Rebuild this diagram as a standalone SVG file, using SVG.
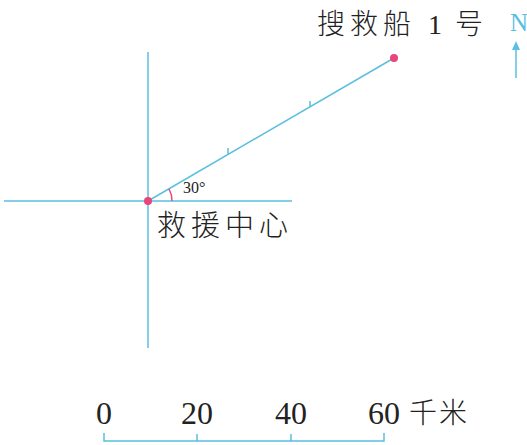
<svg xmlns="http://www.w3.org/2000/svg" width="527" height="445" viewBox="0 0 527 445">
<style>
.ln{stroke:#5bbfe0;stroke-width:1.5;fill:none}
.tx{font-family:"Liberation Serif","Noto Sans CJK SC",serif;fill:#222}
.cj{font-family:"Noto Sans CJK SC",sans-serif;fill:#222;font-weight:300}
.dot{fill:#e8457a}
</style>
<g id="connectors">
<line class="ln" x1="148" y1="52" x2="148" y2="348"/>
<line class="ln" x1="4" y1="201" x2="292" y2="201"/>
<line class="ln" x1="148" y1="201" x2="394" y2="58"/>
<line class="ln" x1="228" y1="154" x2="228" y2="148"/>
<line class="ln" x1="310" y1="107" x2="310" y2="101"/>
<path d="M172,201 A24,24 0 0 0 169,189" stroke="#e8457a" stroke-width="1.5" fill="none"/>
</g>
<g id="center">
<circle class="dot" cx="148" cy="201" r="4"/>
<text class="cj" x="157" y="236" font-size="29" letter-spacing="5">救援中心</text>
<text class="tx" x="183" y="193" font-size="16">30°</text>
</g>
<g id="ship">
<circle class="dot" cx="394" cy="58" r="4"/>
<text class="cj" x="317" y="34" font-size="28" letter-spacing="5">搜救船</text>
<text class="tx" x="428" y="34" font-size="28">1</text>
<text class="cj" x="455" y="34" font-size="28">号</text>
</g>
<g id="north">
<text x="510" y="31" font-size="25" font-family="Liberation Serif,serif" fill="#5bbfe0">N</text>
<line class="ln" x1="516" y1="78" x2="516" y2="48"/>
<path d="M512,50 L516,41 L520,50 Z" fill="#5bbfe0"/>
</g>
<g id="scale">
<path class="ln" d="M104,433 V441 H384 V433 M197,441 V434 M291,441 V434"/>
<text class="tx" x="104" y="424" font-size="32" text-anchor="middle">0</text>
<text class="tx" x="197" y="424" font-size="32" text-anchor="middle">20</text>
<text class="tx" x="291" y="424" font-size="32" text-anchor="middle">40</text>
<text class="tx" x="384" y="424" font-size="32" text-anchor="middle">60</text>
<text class="cj" x="409" y="423" font-size="28" letter-spacing="2">千米</text>
</g>
</svg>
